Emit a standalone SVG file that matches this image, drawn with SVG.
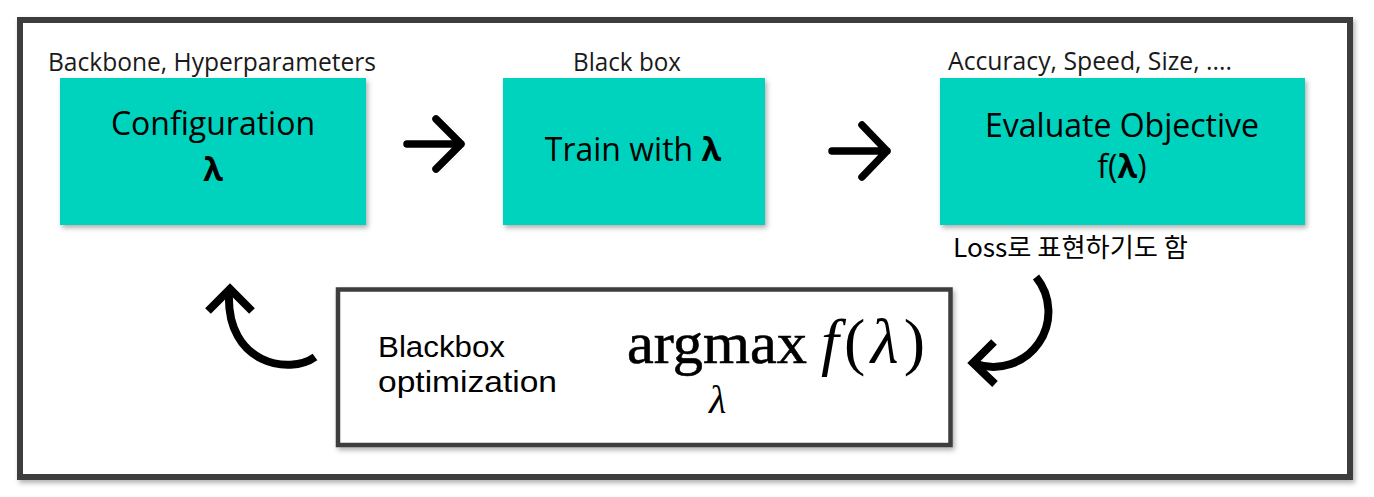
<svg xmlns="http://www.w3.org/2000/svg" width="1374" height="497" viewBox="0 0 1374 497">
  <defs>
    <filter id="shadow" x="-5%" y="-5%" width="115%" height="120%">
      <feDropShadow dx="2" dy="3" stdDeviation="2.5" flood-color="#000" flood-opacity="0.3"/>
    </filter>
    <style>
      .box { fill: #00d3bd; filter: url(#shadow); }
      .label { font-family: "Open Sans", "Liberation Sans", sans-serif; font-size: 24.7px; fill: #1a1a1a; }
      .title { font-family: "Open Sans", "Liberation Sans", sans-serif; font-size: 32px; fill: #000; text-anchor: middle; }
      .bold { font-weight: 700; }
      .arrow { fill: none; stroke: #000; stroke-width: 7.5; stroke-linecap: round; stroke-linejoin: round; }
      .curve { fill: none; stroke: #000; stroke-width: 8; stroke-linecap: butt; stroke-linejoin: miter; }
      .math { font-family: "Liberation Serif", "DejaVu Serif", serif; fill: #000; }
      .body { font-family: "Liberation Sans", "Open Sans", sans-serif; font-size: 30px; fill: #000; }
    </style>
  </defs>
  <rect x="0" y="0" width="1374" height="497" fill="#fff"/>
  <g id="frame">
    <rect x="20" y="20" width="1330" height="457" fill="#fff" stroke="#3e3e3e" stroke-width="6" filter="url(#shadow)"/>
  </g>

  <g id="node-configuration">
    <rect class="box" x="60" y="78" width="306" height="147"/>
    <text class="label" x="48" y="71" textLength="328" lengthAdjust="spacingAndGlyphs">Backbone, Hyperparameters</text>
    <text class="title" x="213" y="135">Configuration</text>
    <text class="title bold" x="213" y="181">λ</text>
  </g>

  <g id="node-train">
    <rect class="box" x="503" y="78" width="262" height="147"/>
    <text class="label" x="573" y="71" textLength="108" lengthAdjust="spacingAndGlyphs">Black box</text>
    <text class="title" x="633" y="161" font-size="30.5">Train with <tspan class="bold">λ</tspan></text>
  </g>

  <g id="node-evaluate">
    <rect class="box" x="940" y="78" width="365" height="147"/>
    <text class="label" x="948" y="70" textLength="284" lengthAdjust="spacingAndGlyphs">Accuracy, Speed, Size, ....</text>
    <text class="title" x="1122" y="137">Evaluate Objective</text>
    <text class="title" x="1122" y="178" font-size="31">f(<tspan class="bold">λ</tspan>)</text>
    <text x="953" y="257" font-family="'Noto Sans CJK KR', 'Noto Sans', sans-serif" font-size="26" fill="#000" textLength="235" lengthAdjust="spacingAndGlyphs">Loss로 표현하기도 함</text>
  </g>

  <g id="node-optimization">
    <rect x="338" y="289.5" width="612.5" height="155.5" fill="#fff" stroke="#3e3e3e" stroke-width="4.5" filter="url(#shadow)"/>
    <text class="body" x="378" y="357" textLength="127" lengthAdjust="spacingAndGlyphs">Blackbox</text>
    <text class="body" x="378" y="392" textLength="179" lengthAdjust="spacingAndGlyphs">optimization</text>
    <text class="math" x="627" y="363" font-size="60" textLength="180" lengthAdjust="spacingAndGlyphs" stroke="#000" stroke-width="0.6">argmax</text>
    <text class="math" x="821" y="363" font-size="64" textLength="104" lengthAdjust="spacing"><tspan font-style="italic">f</tspan>(<tspan font-style="italic">λ</tspan>)</text>
    <text class="math" x="709" y="413" font-size="40" font-style="italic">λ</text>
  </g>

  <g id="connectors">
    <path class="arrow" d="M407 144 H461 M436 119 L461 144 L436 169"/>
    <path class="arrow" d="M832 151 H887 M862 125 L887 151 L862 177"/>
    <path class="curve" d="M1036 277 A55 55 0 0 1 976 364"/>
    <path class="curve" d="M994 342 L973 363 L995 384"/>
    <path class="curve" d="M315 357 C290 375 226 365 229 293"/>
    <path class="curve" d="M208 311 L230 289 L252 311"/>
  </g>
</svg>
